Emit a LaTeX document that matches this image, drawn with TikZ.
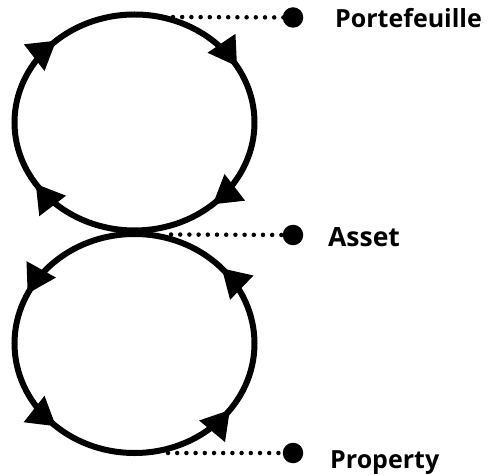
\documentclass[tikz,border=0pt]{standalone}
\usepackage{fontspec}
\setmainfont{Open Sans}
\usetikzlibrary{arrows.meta,decorations.markings}
\begin{document}
\begin{tikzpicture}[x=1pt,y=1pt,
  >={Triangle[length=28pt,width=32pt]},
  loop/.style={line width=6pt, postaction={decorate}},
  leader/.style={line width=4.5pt, line cap=round, dash pattern=on 0pt off 9.2pt},
  endpoint/.style={circle, fill=black, inner sep=0pt, minimum size=20.5pt},
  tag/.style={anchor=base west, inner sep=0pt, font=\bfseries\fontsize{25}{30}\selectfont}]
\useasboundingbox (0,0) rectangle (489,474);

% the two cycles
\coordinate (upper) at (134.5,351.5);
\coordinate (lower) at (134.5,130.5);
\draw[loop, decoration={markings,
    mark=at position 0.083 with {\arrowreversed{>}},
    mark=at position 0.367 with {\arrowreversed{>}},
    mark=at position 0.592 with {\arrowreversed{>}},
    mark=at position 0.867 with {\arrowreversed{>}}}]
  (upper) ellipse [x radius=120, y radius=108];
\draw[loop, decoration={markings,
    mark=at position 0.117 with {\arrow{>}},
    mark=at position 0.428 with {\arrow{>}},
    mark=at position 0.633 with {\arrow{>}},
    mark=at position 0.900 with {\arrow{>}}}]
  (lower) ellipse [x radius=120, y radius=109.5];

% leader ends on the cycles
\coordinate (pf-start) at (173,457);
\coordinate (as-start) at (171,239.5);
\coordinate (pr-start) at (168,21);

% end points and their labels
\node[endpoint] (pf-dot) at (293,456.5) {};
\node[endpoint] (as-dot) at (293,239) {};
\node[endpoint] (pr-dot) at (293,21) {};

\node[tag] (pf) at (335,446) {Portefeuille};
\node[tag, font=\bfseries\fontsize{26.5}{30}\selectfont] (as) at (328,227) {Asset};
\node[tag] (pr) at (330,6) {Property};

\draw[leader] (pf-start) -- (pf-dot.center);
\draw[leader] (as-start) -- (as-dot.center);
\draw[leader] (pr-start) -- (pr-dot.center);
\end{tikzpicture}
\end{document}
